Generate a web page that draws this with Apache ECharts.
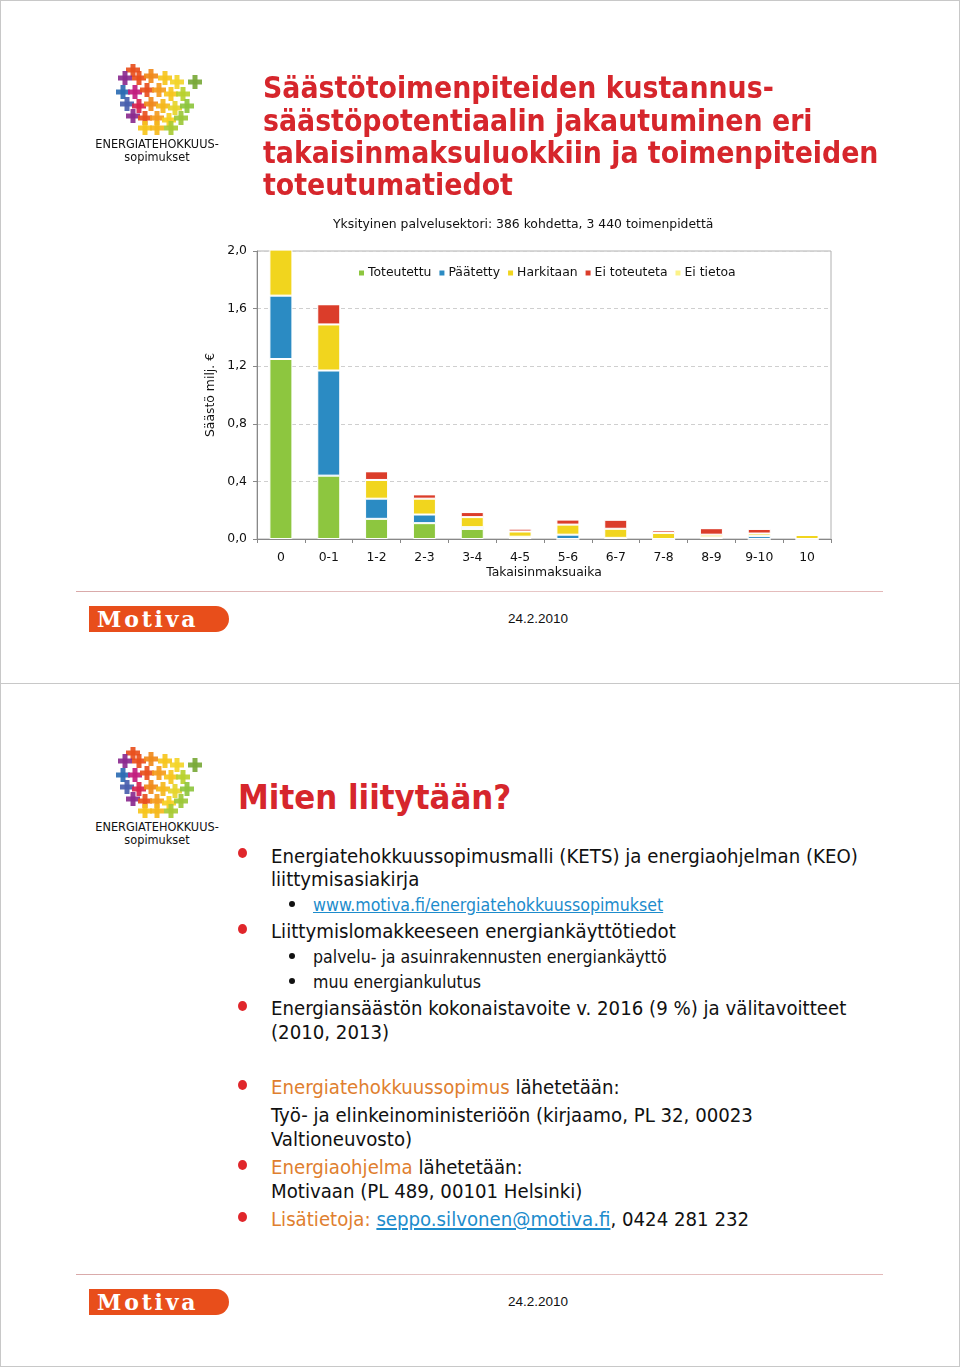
<!DOCTYPE html>
<html>
<head>
<meta charset="utf-8">
<script src="https://cdn.jsdelivr.net/npm/echarts@6/dist/echarts.min.js"></script>
<style>
  html, body { margin: 0; padding: 0; background: #fff; }
  body { width: 960px; height: 1367px; position: relative; overflow: hidden; font-family: "DejaVu Sans", Verdana, sans-serif; }
  .slide { position: absolute; left: 0; width: 958px; border: 1px solid #c8c8c8; box-sizing: content-box; }
  .t { position: absolute; white-space: nowrap; }
  .title { color: #d6262c; font-family: "DejaVu Sans Condensed", "DejaVu Sans", sans-serif; font-weight: bold; font-size: 29.8px; line-height: 32px; }
  .body { color: #111; font-family: "DejaVu Sans Condensed", "DejaVu Sans", sans-serif; font-size: 20.2px; line-height: 24px; }
  .sub { color: #111; font-family: "DejaVu Sans Condensed", "DejaVu Sans", sans-serif; font-size: 17.6px; line-height: 22px; }
  .dot { position: absolute; width: 9px; height: 10px; border-radius: 50%; background: #e0262b; }
  .sdot { position: absolute; width: 6px; height: 6px; border-radius: 50%; background: #111; }
  .orange { color: #df7f2f; }
  .link { color: #1d8ccc; text-decoration: underline; }
  .rule { position: absolute; left: 76px; width: 807px; height: 1px; background: linear-gradient(to right, #d9a9a9, #e8c9c9 50%, #e3b8b8); }
  .date { position: absolute; font-family: "Liberation Sans", Arial, sans-serif; font-size: 13.5px; color: #111; }
  .motiva { position: absolute; left: 89px; width: 140px; height: 26px; background: #e84e1b; border-radius: 0 13px 13px 0; }
  .motiva span { position: absolute; left: 8px; top: 0px; font-family: "DejaVu Serif", serif; font-weight: bold; font-size: 22px; line-height: 26px; color: #fff; letter-spacing: 2.8px; }
  .logotext { position: absolute; font-family: "DejaVu Sans Condensed", sans-serif; font-size: 12.6px; color: #111; text-align: center; width: 140px; line-height: 13px; }
</style>
</head>
<body>
<div class="slide" style="top:0;height:682px;"></div>
<div class="slide" style="top:683px;height:682px;"></div>

<div id="chart" style="position:absolute;left:0;top:0;width:960px;height:600px;"></div>

<!-- slide 1 header -->
<svg id="logo1" style="position:absolute;left:113px;top:64px;" width="95" height="75"></svg>
<div class="logotext" style="left:87px;top:137px;">ENERGIATEHOKKUUS-<br>sopimukset</div>
<div class="t title" style="left:263px;top:72px;">Säästötoimenpiteiden kustannus-</div>
<div class="t title" style="left:263px;top:105px;">säästöpotentiaalin jakautuminen eri</div>
<div class="t title" style="left:263px;top:137px;">takaisinmaksuluokkiin ja toimenpiteiden</div>
<div class="t title" style="left:263px;top:169px;">toteutumatiedot</div>

<div class="rule" style="top:591px;"></div>
<div class="motiva" style="top:606px;"><span>Motiva</span></div>
<div class="date" style="left:508px;top:611px;">24.2.2010</div>

<!-- slide 2 -->
<svg id="logo2" style="position:absolute;left:113px;top:747px;" width="95" height="75"></svg>
<div class="logotext" style="left:87px;top:820px;">ENERGIATEHOKKUUS-<br>sopimukset</div>
<div class="t title" style="left:238px;top:777px;font-size:34.4px;line-height:40px;">Miten liitytään?</div>

<div class="dot" style="left:238px;top:848px;"></div>
<div class="t body" style="left:271px;top:844px;">Energiatehokkuussopimusmalli (KETS) ja energiaohjelman (KEO)</div>
<div class="t body" style="left:271px;top:867px;">liittymisasiakirja</div>
<div class="sdot" style="left:289px;top:901px;"></div>
<div class="t sub link" style="left:313px;top:894px;">www.motiva.fi/energiatehokkuussopimukset</div>

<div class="dot" style="left:238px;top:924px;"></div>
<div class="t body" style="left:271px;top:919px;">Liittymislomakkeeseen energiankäyttötiedot</div>
<div class="sdot" style="left:289px;top:953px;"></div>
<div class="t sub" style="left:313px;top:946px;">palvelu- ja asuinrakennusten energiankäyttö</div>
<div class="sdot" style="left:289px;top:978px;"></div>
<div class="t sub" style="left:313px;top:971px;">muu energiankulutus</div>

<div class="dot" style="left:238px;top:1001px;"></div>
<div class="t body" style="left:271px;top:996px;">Energiansäästön kokonaistavoite v. 2016 (9 %) ja välitavoitteet</div>
<div class="t body" style="left:271px;top:1020px;">(2010, 2013)</div>

<div class="dot" style="left:238px;top:1080px;"></div>
<div class="t body" style="left:271px;top:1075px;"><span class="orange">Energiatehokkuussopimus</span> lähetetään:</div>
<div class="t body" style="left:271px;top:1103px;">Työ- ja elinkeinoministeriöön (kirjaamo, PL 32, 00023</div>
<div class="t body" style="left:271px;top:1127px;">Valtioneuvosto)</div>

<div class="dot" style="left:238px;top:1160px;"></div>
<div class="t body" style="left:271px;top:1155px;"><span class="orange">Energiaohjelma</span> lähetetään:</div>
<div class="t body" style="left:271px;top:1179px;">Motivaan (PL 489, 00101 Helsinki)</div>

<div class="dot" style="left:238px;top:1212px;"></div>
<div class="t body" style="left:271px;top:1207px;"><span class="orange">Lisätietoja: </span><span class="link">seppo.silvonen@motiva.fi</span>, 0424 281 232</div>

<div class="rule" style="top:1274px;"></div>
<div class="motiva" style="top:1289px;"><span>Motiva</span></div>
<div class="date" style="left:508px;top:1294px;">24.2.2010</div>

<script>
// ---- chart data ----
var categories = ['0', '0-1', '1-2', '2-3', '3-4', '4-5', '5-6', '6-7', '7-8', '8-9', '9-10', '10'];
var seriesNames = ['Toteutettu', 'Päätetty', 'Harkitaan', 'Ei toteuteta', 'Ei tietoa'];
var toteutettu  = [1.25, 0.44, 0.14, 0.11, 0.07, 0.008, 0,     0.008, 0,     0.012, 0,     0];
var paatetty    = [0.44, 0.73, 0.14, 0.06, 0.012, 0.008, 0.03, 0,     0,     0,     0.02,  0];
var harkitaan   = [0.32, 0.32, 0.13, 0.11, 0.07, 0.036, 0.07, 0.063, 0.042, 0.018, 0.018, 0.028];
var eiToteuteta = [0,    0.14, 0.06, 0.03, 0.035, 0.02, 0.035, 0.063, 0.018, 0.045, 0.032, 0];
var eiTietoa    = [0,    0,    0,    0,    0,    0,     0,     0,     0,     0,     0,     0];
var yTicks = [0, 0.4, 0.8, 1.2, 1.6, 2.0];
var chartTitle = 'Yksityinen palvelusektori: 386 kohdetta, 3 440 toimenpidettä';
var yName = 'Säästö milj. €';
var xName = 'Takaisinmaksuaika';

var colors = ['#8dc63f', '#2b8bc3', '#f1d51e', '#db3d2a', '#fcf287'];
var valuesList = [toteutettu, paatetty, harkitaan, eiToteuteta, eiTietoa];

var font = '"DejaVu Sans", Verdana, sans-serif';
var chart = echarts.init(document.getElementById('chart'), null, { renderer: 'canvas' });
chart.setOption({
  animation: false,
  color: colors,
  title: {
    text: chartTitle, left: 328, top: 214,
    textStyle: { fontFamily: font, fontSize: 12.4, fontWeight: 'normal', color: '#111' }
  },
  legend: {
    data: seriesNames, left: 352, top: 262, itemWidth: 7, itemHeight: 7, itemGap: 6,
    icon: 'rect',
    textStyle: { fontFamily: font, fontSize: 12.4, color: '#111', padding: [0, 0, 0, -2] }
  },
  grid: { left: 257, right: 129, top: 251, bottom: 61, show: true, borderColor: '#b0b0b0', borderWidth: 1, containLabel: false },
  xAxis: {
    type: 'category', data: categories,
    name: xName, nameLocation: 'middle', nameGap: 28,
    nameTextStyle: { fontFamily: font, fontSize: 12.4, color: '#111' },
    axisLine: { lineStyle: { color: '#888' } },
    axisTick: { show: true, length: 4, lineStyle: { color: '#888' } },
    axisLabel: { fontFamily: font, fontSize: 12.4, color: '#111', margin: 13 }
  },
  yAxis: {
    type: 'value', min: 0, max: 2.0, interval: 0.4,
    name: yName, nameLocation: 'middle', nameGap: 38,
    nameTextStyle: { fontFamily: font, fontSize: 12.4, color: '#111' },
    axisLine: { show: true, lineStyle: { color: '#888' } },
    axisTick: { show: true, length: 4, lineStyle: { color: '#888' } },
    axisLabel: { fontFamily: font, fontSize: 12.4, color: '#111', margin: 10,
      formatter: function (v) { return v.toFixed(1).replace('.', ','); } },
    splitLine: { show: true, lineStyle: { color: '#cfcfcf', type: [4, 3] } }
  },
  series: seriesNames.map(function (n, i) {
    return {
      name: n, type: 'bar', stack: 'total', data: valuesList[i], barWidth: 23, clip: false,
      itemStyle: { color: colors[i], borderColor: '#fff', borderWidth: 1 }
    };
  })
});

// ---- decorative logo of crosses ----
function drawLogo(id) {
  var svg = document.getElementById(id);
  var crosses = [
    [14,4,'#e8501e'],[6,12,'#8b2b8f'],[20,12,'#e94f1c'],[32,10,'#f08a1b'],[46,12,'#f6c61d'],[58,16,'#f3d52a'],[76,16,'#7aa93a'],
    [4,26,'#2c6db3'],[16,26,'#c21d7f'],[28,24,'#e8501e'],[40,24,'#f49c1f'],[52,28,'#f7c51f'],[64,28,'#b9d12f'],
    [8,38,'#4a5fae'],[20,40,'#d9244f'],[32,38,'#f08a1b'],[44,40,'#f5b81d'],[56,42,'#e6d52d'],[68,40,'#8ec63f'],
    [14,50,'#8b2b8f'],[26,52,'#e8501e'],[38,52,'#f49c1f'],[50,54,'#f7d023'],[62,52,'#9cc83a'],
    [26,62,'#f6c61d'],[38,62,'#f5b81d'],[52,62,'#a8cb35']
  ];
  var html = '';
  crosses.forEach(function (c) {
    var x = c[0] + 6, y = c[1] + 2, col = c[2];
    html += '<rect x="' + (x - 2.5) + '" y="' + (y - 7) + '" width="5" height="14" fill="' + col + '" opacity="0.92"/>';
    html += '<rect x="' + (x - 7) + '" y="' + (y - 2.5) + '" width="14" height="5" fill="' + col + '" opacity="0.92"/>';
  });
  svg.innerHTML = html;
}
drawLogo('logo1');
drawLogo('logo2');
</script>
</body>
</html>
